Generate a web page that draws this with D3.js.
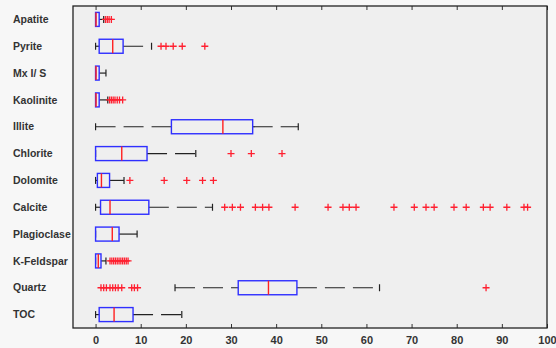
<!DOCTYPE html>
<html><head><meta charset="utf-8">
<script src="https://cdn.jsdelivr.net/npm/d3@7"></script>
<style>body{margin:0;background:#f7f7f7}svg{display:block}</style>
</head><body>
<svg id="c" width="556" height="348"></svg>
<script>
const categories = ["Apatite","Pyrite","Mx I/ S","Kaolinite","Illite","Chlorite","Dolomite","Calcite","Plagioclase","K-Feldspar","Quartz","TOC"];
const whiskerLow  = [0,   0,   0,   0,   0,    0,    0,   0,    0,   0,   17.6, 0];
const q1          = [0,   0.8, 0,   0,   16.8, 0,    0.4, 1.1,  0,   0,   31.6, 0.8];
const medians     = [0.1, 3.8, 0.1, 0.1, 28.2, 5.8,  1.3, 3.2,  3.7, 0.6, 38.3, 4.1];
const q3          = [0.8, 6.1, 0.8, 0.8, 34.8, 11.4, 3.1, 11.8, 5.2, 1.2, 44.6, 8.3];
const whiskerHigh = [1.8, 12.4,2.3, 2.7, 44.9, 22.2, 6.3, 25.9, 9.2, 2.3, 62.9, 19.1];
const outliers = [
  [2.2, 2.6, 3.0, 3.5],
  [14.5, 15.6, 17.2, 19.2, 24.2],
  [],
  [3.1, 3.5, 3.9, 4.3, 4.8, 5.3, 6.0],
  [],
  [30.0, 34.5, 41.3],
  [7.6, 15.2, 20.2, 23.7, 26.1],
  [28.6, 30.3, 32.1, 35.4, 37.0, 38.4, 44.2, 51.5, 54.8, 56.2, 57.7, 66.1, 70.6, 73.2, 75.0, 79.4, 82.1, 85.9, 87.4, 91.1, 94.9, 95.7],
  [],
  [3.2, 3.6, 4.0, 4.4, 4.8, 5.2, 5.6, 6.0, 6.4, 6.8, 7.2],
  [1.2, 1.8, 2.4, 3.2, 3.8, 4.4, 5.0, 5.8, 8.0, 8.6, 9.3, 86.5],
  []
];
const xTicks = [0,10,20,30,40,50,60,70,80,90,100];

const svg = d3.select("#c");
const L = 73, R = 547, T = 6, B = 328;
const x = d3.scaleLinear().domain([-5,100]).range([L,R]);
const y = d3.scaleBand().domain(categories).range([T,B]).padding(0);
const boxH = 14, capH = 7;

svg.append("rect").attr("x",0).attr("y",0).attr("width",556).attr("height",348).attr("fill","#f7f7f7");
svg.append("rect").attr("x",L).attr("y",T).attr("width",R-L).attr("height",B-T).attr("fill","#efefef");

// ticks top & bottom
const axB = d3.axisBottom(x).tickValues(xTicks).tickSize(-4).tickPadding(8).tickFormat(d3.format("d"));
const gB = svg.append("g").attr("transform",`translate(0,${B})`).call(axB);
gB.select(".domain").remove();
gB.selectAll("line").attr("stroke","#333");
gB.selectAll("text").attr("font-family","Liberation Sans, Arial, sans-serif").attr("font-size","11px").attr("font-weight","bold").attr("fill","#333");
const axT = d3.axisTop(x).tickValues(xTicks).tickSize(-4).tickFormat("");
const gT = svg.append("g").attr("transform",`translate(0,${T})`).call(axT);
gT.select(".domain").remove();
gT.selectAll("line").attr("stroke","#333");

// frame
svg.append("rect").attr("x",L).attr("y",T).attr("width",R-L).attr("height",B-T)
  .attr("fill","none").attr("stroke","#222").attr("stroke-width",1.3);

// category labels
svg.append("g").selectAll("text").data(categories).join("text")
  .attr("x",13).attr("y",d=>y(d)+y.bandwidth()/2).attr("dy","0.35em")
  .attr("font-family","Liberation Sans, Arial, sans-serif").attr("font-size","10.5px").attr("font-weight","bold")
  .attr("fill","#333").text(d=>d);

const rows = categories.map((c,i)=>({c, lo:whiskerLow[i], q1:q1[i], med:medians[i], q3:q3[i], hi:whiskerHigh[i], out:outliers[i]}));
const g = svg.append("g").selectAll("g").data(rows).join("g")
  .attr("transform",d=>`translate(0,${y(d.c)+y.bandwidth()/2})`);

// whiskers
g.append("line").attr("x1",d=>x(d.lo)).attr("x2",d=>x(d.q1)).attr("y1",0).attr("y2",0)
  .attr("stroke","#222").attr("stroke-width",1.2).attr("stroke-dasharray","20,8");
g.append("line").attr("x1",d=>x(d.q3)).attr("x2",d=>x(d.hi)).attr("y1",0).attr("y2",0)
  .attr("stroke","#222").attr("stroke-width",1.2).attr("stroke-dasharray","20,8");
// caps
g.append("line").attr("x1",d=>x(d.lo)).attr("x2",d=>x(d.lo)).attr("y1",-capH/2).attr("y2",capH/2)
  .attr("stroke","#222").attr("stroke-width",1.2);
g.append("line").attr("x1",d=>x(d.hi)).attr("x2",d=>x(d.hi)).attr("y1",-capH/2).attr("y2",capH/2)
  .attr("stroke","#222").attr("stroke-width",1.2);
// box
g.append("rect").attr("x",d=>x(d.q1)).attr("width",d=>Math.max(1,x(d.q3)-x(d.q1)))
  .attr("y",-boxH/2).attr("height",boxH).attr("fill","none").attr("stroke","#2f2fff").attr("stroke-width",1.4);
// median
g.append("line").attr("x1",d=>x(d.med)).attr("x2",d=>x(d.med)).attr("y1",-boxH/2).attr("y2",boxH/2)
  .attr("stroke","#ff2020").attr("stroke-width",1.4);
// outliers
g.each(function(d){
  const s = d3.select(this).selectAll("path.o").data(d.out).join("path").attr("class","o")
    .attr("d",v=>`M${x(v)-3.5},0H${x(v)+3.5}M${x(v)},-3.5V3.5`)
    .attr("stroke","#ff2030").attr("stroke-width",1.3).attr("fill","none");
});
</script>
</body></html>
